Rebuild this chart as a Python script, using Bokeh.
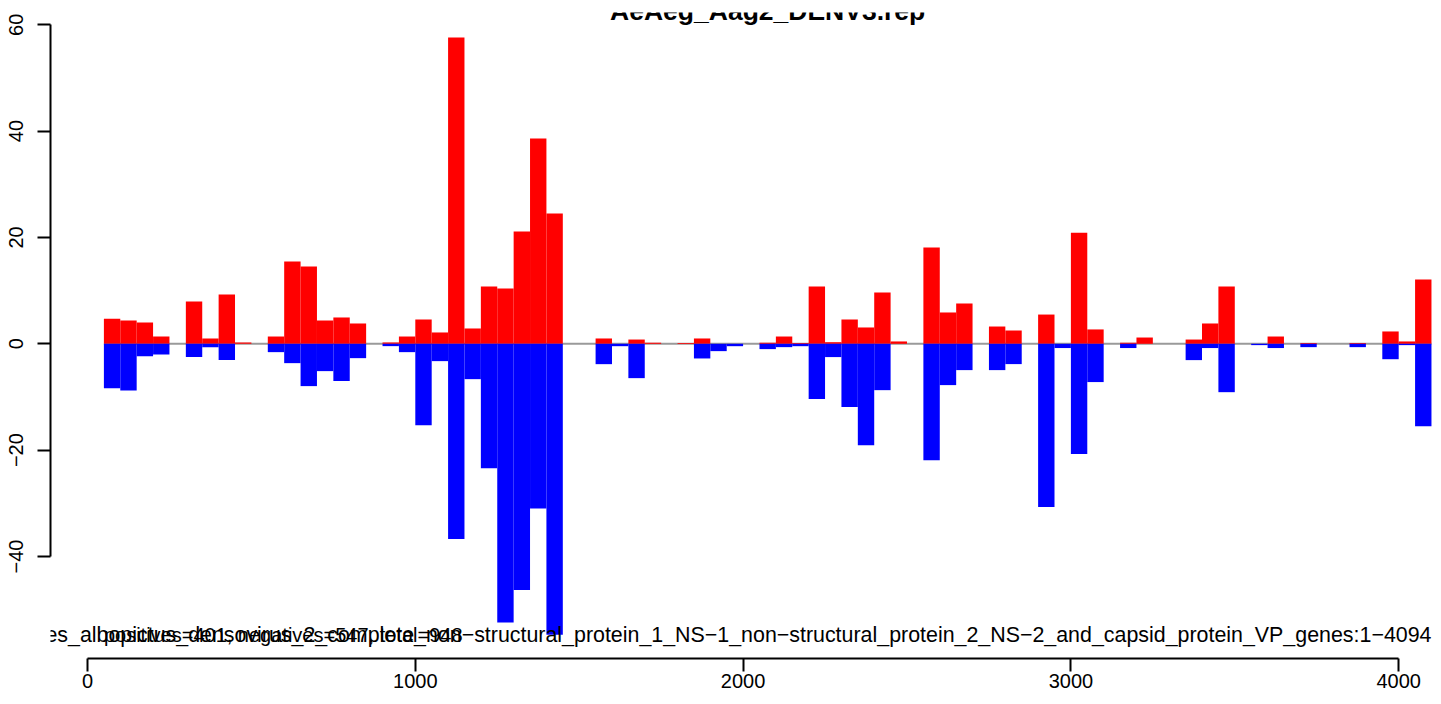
from bokeh.plotting import figure
from bokeh.models import Range1d, FixedTicker, Label
from bokeh.core.properties import value
from bokeh.embed import file_html
from bokeh.resources import INLINE

# ---------------- data ----------------
title_text = "AeAeg_Aag2_DENV3.rep"
bin_width = 50
first_bin = 50
positives = [4.7, 4.4, 4.0, 1.37, 0, 7.96, 1.0, 9.27, 0.25, 0, 1.37, 15.48, 14.54, 4.38, 4.95, 3.82, 0,
             0.25, 1.37, 4.57, 2.13, 57.6, 2.88, 10.78, 10.4, 21.1, 38.6, 24.5, 0, 0, 1.0, 0, 0.8, 0.2,
             0, 0.15, 1.0, 0, 0, 0, 0.2, 1.37, 0.15, 10.78, 0.3, 4.57, 3.07, 9.65, 0.44, 0, 18.1, 5.89,
             7.58, 0, 3.25, 2.5, 0, 5.5, 0, 20.9, 2.7, 0, 0.2, 1.18, 0, 0, 0.8, 3.82, 10.78, 0, 0, 1.37,
             0, 0.15, 0, 0, 0.15, 0, 2.32, 0.44, 12.1]
negatives = [-8.34, -8.78, -2.32, -2.0, 0, -2.5, -0.63, -3.07, 0, 0, -1.57, -3.64, -7.96, -5.14, -7.0,
             -2.7, 0, -0.44, -1.57, -15.3, -3.26, -36.7, -6.65, -23.4, -52.4, -46.3, -31.0, -54.7, 0, 0,
             -3.83, -0.45, -6.46, 0, 0, 0, -2.76, -1.38, -0.45, 0, -1.0, -0.63, -0.45, -10.4, -2.5,
             -11.9, -19.07, -8.72, 0, 0, -21.9, -7.77, -4.95, 0, -4.95, -3.82, 0, -30.7, -0.8, -20.75,
             -7.2, 0, -0.8, 0, 0, 0, -3.07, -0.8, -9.1, 0, -0.25, -0.8, 0, -0.63, 0, 0, -0.63, 0, -2.9,
             -0.25, -15.5]
x_ticks = [0, 1000, 2000, 3000, 4000]
y_ticks = [-40, -20, 0, 20, 40, 60]
y_tick_labels = {-40: "\u221240", -20: "\u221220", 0: "0", 20: "20", 40: "40", 60: "60"}
count_text = "positives=401, negatives=547, total=948"
gene_text = ("Aedes_albopictus_densovirus_2_complete_non\u2212structural_protein_1_NS\u22121_"
             "non\u2212structural_protein_2_NS\u22122_and_capsid_protein_VP_genes:1\u22124094")

# ---------------- derived ----------------
n = len(positives)
centers = [first_bin + bin_width * (i + 0.5) for i in range(n)]
x_lo = first_bin
x_hi = first_bin + bin_width * n

FONT = "Liberation Sans"

p = figure(width=1433, height=696, output_backend="svg", toolbar_location=None,
           x_range=Range1d(-112.9, 4106.2), y_range=Range1d(-59.19, 62.31),
           min_border_left=50, min_border_right=0, min_border_top=12, min_border_bottom=38,
           outline_line_color=None, background_fill_color="white", border_fill_color="white")
p.xgrid.visible = False
p.ygrid.visible = False

# zero line
p.line(x=[x_lo, x_hi], y=[0, 0], line_color="#9a9a9a", line_width=2)

# bars
p.vbar(x=centers, width=bin_width, bottom=0, top=positives, fill_color="#FF0000", line_color=None)
p.vbar(x=centers, width=bin_width, top=0, bottom=negatives, fill_color="#0000FF", line_color=None)

# texts inside plot
p.text(x=[x_lo], y=[min(negatives)], text=[count_text], text_align="left",
       text_baseline="alphabetic", text_font=value(FONT), text_font_size="20px", text_color="black")
p.text(x=[x_hi], y=[min(negatives)], text=[gene_text], text_align="right",
       text_baseline="alphabetic", text_font=value(FONT), text_font_size="21.4px", text_color="black")

# title
p.add_layout(Label(x=(x_lo + x_hi) / 2, y=62.5, text=title_text, text_align="center",
                   text_baseline="alphabetic", text_font=FONT, text_font_style="bold",
                   text_font_size="26.5px", text_color="black"))

# axes
for ax in (p.xaxis, p.yaxis):
    ax.axis_line_width = 2
    ax.axis_line_color = "black"
    ax.major_tick_line_width = 2
    ax.major_tick_line_color = "black"
    ax.major_tick_in = 0
    ax.major_tick_out = 13
    ax.minor_tick_in = 0
    ax.minor_tick_out = 0
    ax.minor_tick_line_color = None
    ax.major_label_text_font = FONT
    ax.major_label_text_font_size = "20px"
    ax.major_label_text_color = "black"

p.xaxis.ticker = FixedTicker(ticks=x_ticks)
p.xaxis.bounds = (x_ticks[0], x_ticks[-1])
p.xaxis.major_label_standoff = 2

p.yaxis.ticker = FixedTicker(ticks=y_ticks)
p.yaxis.bounds = (y_ticks[0], y_ticks[-1])
p.yaxis.major_label_overrides = y_tick_labels
p.yaxis.major_label_orientation = "vertical"
p.yaxis.major_label_standoff = 14

open("out.html", "w").write(file_html(p, INLINE))
